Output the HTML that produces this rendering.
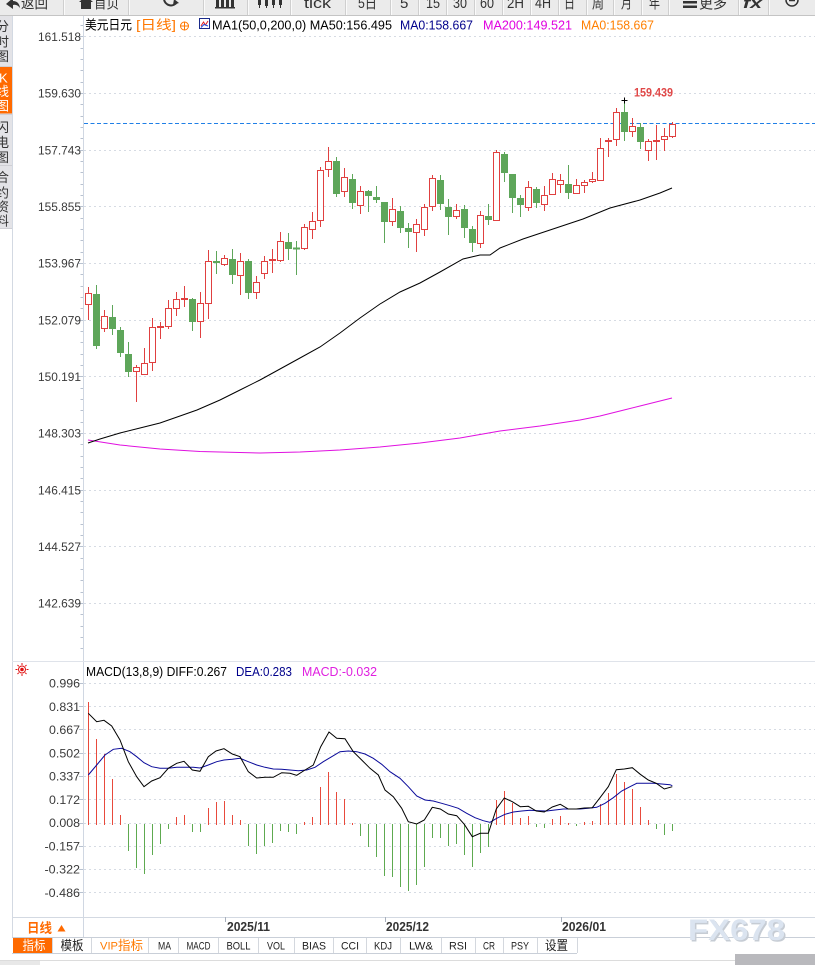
<!DOCTYPE html>
<html><head><meta charset="utf-8">
<style>
html,body{margin:0;padding:0;background:#fff;}
svg{display:block;}
text{font-family:"Liberation Sans","Noto Sans CJK SC",sans-serif;}
.mono{font-family:"Liberation Mono","Noto Sans CJK SC",monospace;}
</style></head><body>
<svg xmlns="http://www.w3.org/2000/svg" width="815" height="965" viewBox="0 0 815 965">
<rect width="815" height="965" fill="#fff"/>

<!-- ===== Toolbar ===== -->
<rect x="0" y="0" width="815" height="15" fill="#ebebeb"/>
<line x1="0" y1="15.5" x2="815" y2="15.5" stroke="#c4c4c4"/>
<g stroke="#cfcfcf" shape-rendering="crispEdges">
<path d="M63.5 0V15M128.5 0V15M203.5 0V15M247.5 0V15M290.5 0V15M345.5 0V15M390.5 0V15M418.5 0V15M446.5 0V15M474.5 0V15M502.5 0V15M530.5 0V15M558.5 0V15M586.5 0V15M613.5 0V15M641.5 0V15M668.5 0V15M738.5 0V15M768.5 0V15"/>
</g>
<g stroke="#fafafa" shape-rendering="crispEdges">
<path d="M64.5 0V15M129.5 0V15M204.5 0V15M248.5 0V15M291.5 0V15M346.5 0V15M391.5 0V15M419.5 0V15M447.5 0V15M475.5 0V15M503.5 0V15M531.5 0V15M559.5 0V15M587.5 0V15M614.5 0V15M642.5 0V15M669.5 0V15M739.5 0V15M769.5 0V15"/>
</g>
<g fill="#333">
<path d="M6 4 L13 -2 L13 1 Q19 1 20 8 Q17 4 13 5 L13 9 Z"/>
<path d="M79 2 L86 -4 L93 2 Z"/><rect x="81" y="2" width="10" height="7"/>
<rect x="216" y="-2" width="3" height="9"/><rect x="221" y="-4" width="3" height="11"/><rect x="226" y="0" width="3" height="7"/><rect x="231" y="-3" width="3" height="10"/>
<rect x="215" y="7" width="20" height="1.5"/>
<rect x="258" y="-2" width="3" height="7"/><rect x="259" y="-4" width="1" height="12"/>
<rect x="265" y="0" width="3" height="6"/><rect x="266" y="-4" width="1" height="12"/>
<rect x="272" y="-1" width="3" height="6"/><rect x="273" y="-4" width="1" height="12"/>
<rect x="279" y="0" width="3" height="5"/><rect x="280" y="-4" width="1" height="12"/>
<rect x="683" y="1" width="14" height="2.5"/><rect x="683" y="5.5" width="14" height="2.5"/>
</g>
<path d="M164 -1 A7 7 0 0 0 177 2" fill="none" stroke="#333" stroke-width="2"/>
<path d="M174 -1 L179 3 L173 5 Z" fill="#333"/>
<circle cx="792" cy="0" r="6" fill="none" stroke="#333" stroke-width="1.5"/>
<path d="M789 0.5H795" stroke="#333" stroke-width="1.5"/>
<g font-size="15" fill="#333">
<text x="21" y="8" textLength="27" lengthAdjust="spacingAndGlyphs">返回</text>
<text x="94" y="8" textLength="25" lengthAdjust="spacingAndGlyphs">首页</text>
<text x="304" y="8" textLength="27" lengthAdjust="spacingAndGlyphs">tick</text>
<text x="358" y="8" textLength="19" lengthAdjust="spacingAndGlyphs">5日</text>
<text x="400" y="8">5</text>
<text x="426" y="8" textLength="14" lengthAdjust="spacingAndGlyphs">15</text>
<text x="453" y="8" textLength="14" lengthAdjust="spacingAndGlyphs">30</text>
<text x="480" y="8" textLength="14" lengthAdjust="spacingAndGlyphs">60</text>
<text x="507" y="8" textLength="17" lengthAdjust="spacingAndGlyphs">2H</text>
<text x="535" y="8" textLength="16" lengthAdjust="spacingAndGlyphs">4H</text>
<text x="564" y="8" textLength="11" lengthAdjust="spacingAndGlyphs">日</text>
<text x="592" y="8" textLength="12" lengthAdjust="spacingAndGlyphs">周</text>
<text x="621" y="8" textLength="11" lengthAdjust="spacingAndGlyphs">月</text>
<text x="649" y="8" textLength="11" lengthAdjust="spacingAndGlyphs">年</text>
<text x="699" y="8" textLength="28" lengthAdjust="spacingAndGlyphs">更多</text>
<text x="743" y="8" font-weight="bold" font-style="italic" textLength="19" lengthAdjust="spacingAndGlyphs">fx</text>
</g>

<!-- ===== Left sidebar ===== -->
<rect x="0" y="16" width="12" height="212" fill="#e3e3e7"/>
<rect x="0" y="66.5" width="12" height="47" fill="#ff6a00"/>
<path d="M0 66.5H12M0 114.5H12M0 165.5H12M0 228.5H12" stroke="#cfcfd4"/>
<line x1="12.5" y1="16" x2="12.5" y2="937" stroke="#d3d9e2"/>
<g font-size="13" fill="#333">
<text x="-4" y="31">分</text><text x="-4" y="46.5">时</text><text x="-4" y="61">图</text>
<text x="-4" y="132">闪</text><text x="-4" y="147">电</text><text x="-4" y="162">图</text>
<text x="-4" y="182">合</text><text x="-4" y="197.5">约</text><text x="-4" y="211.5">资</text><text x="-4" y="225.5">料</text>
</g>
<g font-size="13" fill="#fff">
<text x="-1" y="82.5">K</text><text x="-4" y="96">线</text><text x="-4" y="110.5">图</text>
</g>

<!-- ===== Axis line ===== -->
<line x1="83.5" y1="16" x2="83.5" y2="937" stroke="#d0d7e2"/>

<!-- price gridlines -->
<g stroke="#d6dbe3" stroke-dasharray="2 3">
<path d="M84 36.5H815M84 93.5H815M84 150.5H815M84 206.5H815M84 263.5H815M84 320.5H815M84 376.5H815M84 433.5H815M84 490.5H815M84 546.5H815M84 603.5H815"/>
</g>
<!-- price ticks -->
<g stroke="#b8c2d0" shape-rendering="crispEdges">
<path d="M78 36.5H83M78 93.5H83M78 150.5H83M78 206.5H83M78 263.5H83M78 320.5H83M78 376.5H83M78 433.5H83M78 490.5H83M78 546.5H83M78 603.5H83"/>
<path d="M80.5 25.5H83M80.5 48.5H83M80.5 59.5H83M80.5 70.5H83M80.5 82.5H83M80.5 104.5H83M80.5 116.5H83M80.5 127.5H83M80.5 138.5H83M80.5 161.5H83M80.5 172.5H83M80.5 184.5H83M80.5 195.5H83M80.5 218.5H83M80.5 229.5H83M80.5 240.5H83M80.5 252.5H83M80.5 274.5H83M80.5 286.5H83M80.5 297.5H83M80.5 308.5H83M80.5 331.5H83M80.5 342.5H83M80.5 354.5H83M80.5 365.5H83M80.5 388.5H83M80.5 399.5H83M80.5 410.5H83M80.5 422.5H83M80.5 444.5H83M80.5 456.5H83M80.5 467.5H83M80.5 478.5H83M80.5 501.5H83M80.5 512.5H83M80.5 524.5H83M80.5 535.5H83M80.5 558.5H83M80.5 569.5H83M80.5 580.5H83M80.5 592.5H83M80.5 614.5H83M80.5 626.5H83M80.5 637.5H83M80.5 648.5H83"/>
</g>
<!-- price labels -->
<g font-size="12" fill="#3a3a3a">
<text x="38" y="41" textLength="43" lengthAdjust="spacingAndGlyphs">161.518</text>
<text x="38" y="97.7" textLength="43" lengthAdjust="spacingAndGlyphs">159.630</text>
<text x="38" y="154.3" textLength="43" lengthAdjust="spacingAndGlyphs">157.743</text>
<text x="38" y="211" textLength="43" lengthAdjust="spacingAndGlyphs">155.855</text>
<text x="38" y="267.7" textLength="43" lengthAdjust="spacingAndGlyphs">153.967</text>
<text x="38" y="324.3" textLength="43" lengthAdjust="spacingAndGlyphs">152.079</text>
<text x="38" y="381" textLength="43" lengthAdjust="spacingAndGlyphs">150.191</text>
<text x="38" y="437.7" textLength="43" lengthAdjust="spacingAndGlyphs">148.303</text>
<text x="38" y="494.3" textLength="43" lengthAdjust="spacingAndGlyphs">146.415</text>
<text x="38" y="551" textLength="43" lengthAdjust="spacingAndGlyphs">144.527</text>
<text x="38" y="607.7" textLength="43" lengthAdjust="spacingAndGlyphs">142.639</text>
</g>

<!-- legend -->
<g font-size="13">
<text x="85" y="29.5" fill="#000" textLength="47" lengthAdjust="spacingAndGlyphs">美元日元</text>
<text x="136" y="29.5" fill="#ff7700" textLength="40" lengthAdjust="spacingAndGlyphs">[日线]</text>
<text x="212" y="29.5" fill="#000" textLength="180" lengthAdjust="spacingAndGlyphs">MA1(50,0,200,0) MA50:156.495</text>
<text x="400" y="29.5" fill="#00008b" textLength="73" lengthAdjust="spacingAndGlyphs">MA0:158.667</text>
<text x="483" y="29.5" fill="#e000e0" textLength="89" lengthAdjust="spacingAndGlyphs">MA200:149.521</text>
<text x="581" y="29.5" fill="#ff7f00" textLength="73" lengthAdjust="spacingAndGlyphs">MA0:158.667</text>
</g>
<circle cx="184.5" cy="26" r="4" fill="none" stroke="#ff7700"/>
<path d="M184.5 21.5V30.5M180 26H189" stroke="#ff7700"/>
<rect x="199.5" y="18.5" width="10" height="10" fill="#fff" stroke="#1a2a8a"/>
<path d="M201 26 L203.5 22 L205.5 25 L208 21" fill="none" stroke="#e02020"/>
<path d="M201 27.5 L204 24.5 L208 26" fill="none" stroke="#2050e0"/>

<!-- current price dashed -->
<line x1="84" y1="123.5" x2="815" y2="123.5" stroke="#1f7fe6" stroke-dasharray="4 2.5"/>

<!-- MA200 -->
<polyline fill="none" stroke="#e010e0" stroke-width="1" points="88,440 120,445 160,449 200,451.5 260,453 300,452 340,450 380,447 420,443 460,438 500,431 540,426 580,420 600,416 620,411 640,406 660,401 672,398"/>
<!-- MA50 -->
<polyline fill="none" stroke="#000" stroke-width="1" points="88,443 100,439 120,433 140,428 160,423 180,416 197,410 220,400 240,390 260,380 280,369 300,358 320,347 340,333 360,318 380,304 400,292 420,283 440,272 463,259 480,255 490,255 500,248 523,239 550,230 583,219 610,208 640,200 660,193 672,188"/>

<!-- candles: green -->
<path fill="none" stroke="#5ea65a" d="M96.5 285V349M112.5 305V335M120.5 327V357M128.5 342V377M192.5 298V331M216.5 251V274M232.5 249V284M248.5 259V299M288.5 233V260M296.5 241V275M336.5 157V197M352.5 174V209M368.5 190V212M376.5 186V203M384.5 202V243M400.5 206V233M408.5 223V248M440.5 175V210M448.5 199V235M464.5 205V238M472.5 226V252M488.5 204V225M504.5 152V182M512.5 174V213M520.5 195V217M536.5 187V208M568.5 165V199M624.5 100V141M640.5 123V149"/>
<g fill="#5ea65a">
<rect x="93" y="294" width="7" height="52"/>
<rect x="109" y="317" width="7" height="12"/>
<rect x="117" y="330" width="7" height="23"/>
<rect x="125" y="354" width="7" height="18"/>
<rect x="189" y="299" width="7" height="23"/>
<rect x="213" y="261" width="7" height="2"/>
<rect x="229" y="259" width="7" height="16"/>
<rect x="245" y="261" width="7" height="32"/>
<rect x="285" y="242" width="7" height="7"/>
<rect x="293" y="247.5" width="7" height="2"/>
<rect x="333" y="161" width="7" height="33"/>
<rect x="349" y="179" width="7" height="24"/>
<rect x="365" y="191" width="7" height="5"/>
<rect x="373" y="197" width="7" height="3"/>
<rect x="381" y="202" width="7" height="20"/>
<rect x="397" y="211" width="7" height="17"/>
<rect x="405" y="228" width="7" height="4"/>
<rect x="437" y="180" width="7" height="24"/>
<rect x="445" y="207" width="7" height="10"/>
<rect x="461" y="209" width="7" height="19"/>
<rect x="469" y="229" width="7" height="14"/>
<rect x="485" y="216" width="7" height="4"/>
<rect x="501" y="154" width="7" height="19"/>
<rect x="509" y="174" width="7" height="24"/>
<rect x="517" y="198" width="7" height="7"/>
<rect x="533" y="189" width="7" height="14"/>
<rect x="565" y="184" width="7" height="9"/>
<rect x="621" y="112" width="7" height="20"/>
<rect x="637" y="127" width="7" height="15"/>
</g>
<!-- candles: red -->
<path fill="none" stroke="#e04040" d="M88.5 287V320M104.5 310V332M136.5 365V402M144.5 348V374M152.5 318V371M160.5 322V339M168.5 300V329M176.5 292V316M184.5 286V307M200.5 292V338M208.5 250V319M224.5 255V266M240.5 253V295M256.5 276V299M264.5 256V279M272.5 249V273M280.5 232V262M304.5 224V250M312.5 212V239M320.5 167V227M328.5 147V177M344.5 168V197M360.5 186V214M392.5 198V226M416.5 219V252M424.5 204V236M432.5 175V211M456.5 204V219M480.5 211V248M496.5 150V220M528.5 181V211M544.5 186V211M552.5 173V194M560.5 174V193M576.5 179V193M584.5 180V193M592.5 172V183M600.5 138V181M608.5 138V157M616.5 108V146M632.5 118V137M648.5 139V161M656.5 125V160M664.5 128V151M672.5 122V138"/>
<g fill="#fff" stroke="#e04040">
<rect x="85.5" y="293.5" width="6" height="11"/>
<rect x="101.5" y="316.5" width="6" height="12"/>
<rect x="133.5" y="367.5" width="6" height="4"/>
<rect x="141.5" y="363.5" width="6" height="11"/>
<rect x="149.5" y="327.5" width="6" height="35"/>
<rect x="157.5" y="326.5" width="6" height="1"/>
<rect x="165.5" y="308.5" width="6" height="18"/>
<rect x="173.5" y="299.5" width="6" height="9"/>
<rect x="181.5" y="298.5" width="6" height="1"/>
<rect x="197.5" y="303.5" width="6" height="18"/>
<rect x="205.5" y="261.5" width="6" height="42"/>
<rect x="221.5" y="258.5" width="6" height="6"/>
<rect x="237.5" y="261.5" width="6" height="14"/>
<rect x="253.5" y="282.5" width="6" height="10"/>
<rect x="261.5" y="261.5" width="6" height="12"/>
<rect x="269.5" y="259.5" width="6" height="1"/>
<rect x="277.5" y="241.5" width="6" height="19"/>
<rect x="301.5" y="227.5" width="6" height="21"/>
<rect x="309.5" y="221.5" width="6" height="8"/>
<rect x="317.5" y="170.5" width="6" height="50"/>
<rect x="325.5" y="161.5" width="6" height="8"/>
<rect x="341.5" y="177.5" width="6" height="14"/>
<rect x="357.5" y="191.5" width="6" height="14"/>
<rect x="389.5" y="209.5" width="6" height="12"/>
<rect x="413.5" y="224.5" width="6" height="8"/>
<rect x="421.5" y="207.5" width="6" height="22"/>
<rect x="429.5" y="178.5" width="6" height="28"/>
<rect x="453.5" y="210.5" width="6" height="6"/>
<rect x="477.5" y="215.5" width="6" height="28"/>
<rect x="493.5" y="152.5" width="6" height="68"/>
<rect x="525.5" y="187.5" width="6" height="20"/>
<rect x="541.5" y="195.5" width="6" height="9"/>
<rect x="549.5" y="179.5" width="6" height="15"/>
<rect x="557.5" y="180.5" width="6" height="4"/>
<rect x="573.5" y="185.5" width="6" height="8"/>
<rect x="581.5" y="182.5" width="6" height="3"/>
<rect x="589.5" y="179.5" width="6" height="2"/>
<rect x="597.5" y="148.5" width="6" height="32"/>
<rect x="605.5" y="140.5" width="6" height="1"/>
<rect x="613.5" y="112.5" width="6" height="27"/>
<rect x="629.5" y="126.5" width="6" height="5"/>
<rect x="645.5" y="141.5" width="6" height="9"/>
<rect x="653.5" y="140.5" width="6" height="1"/>
<rect x="661.5" y="136.5" width="6" height="3"/>
<rect x="669.5" y="124.5" width="6" height="12"/>
</g>
<!-- high marker -->
<path d="M621.5 100.5H627.5M624.5 97.5V103.5" stroke="#000"/>
<text x="634" y="96.5" font-size="12" font-weight="bold" fill="#e04848" textLength="39" lengthAdjust="spacingAndGlyphs">159.439</text>

<!-- ===== MACD panel ===== -->
<line x1="12" y1="661.5" x2="815" y2="661.5" stroke="#dfe3ea"/>
<g stroke="#e01010" fill="none">
<circle cx="22" cy="669.5" r="3.5"/>
<path d="M22 663V665M22 674V676M15.5 669.5H17.5M26.5 669.5H28.5M17.5 665L18.8 666.3M25.2 672.7L26.5 674M26.5 665L25.2 666.3M18.8 672.7L17.5 674"/>
</g>
<circle cx="22" cy="669.5" r="1.8" fill="#e01010"/>
<g font-size="13">
<text x="86" y="676" fill="#000" textLength="141" lengthAdjust="spacingAndGlyphs">MACD(13,8,9) DIFF:0.267</text>
<text x="236" y="676" fill="#00008b" textLength="56" lengthAdjust="spacingAndGlyphs">DEA:0.283</text>
<text x="302" y="676" fill="#e020e0" textLength="75" lengthAdjust="spacingAndGlyphs">MACD:-0.032</text>
</g>
<g stroke="#d6dbe3" stroke-dasharray="2 3">
<path d="M84 683.5H815M84 706.5H815M84 729.5H815M84 753.5H815M84 776.5H815M84 799.5H815M84 823.5H815M84 846.5H815M84 869.5H815M84 892.5H815"/>
</g>
<g stroke="#b8c2d0" shape-rendering="crispEdges">
<path d="M79 683.5H83M79 706.5H83M79 729.5H83M79 753.5H83M79 776.5H83M79 799.5H83M79 823.5H83M79 846.5H83M79 869.5H83M79 892.5H83"/>
</g>
<g font-size="12" fill="#3a3a3a">
<text x="49" y="687.6" textLength="31" lengthAdjust="spacingAndGlyphs">0.996</text>
<text x="49" y="710.9" textLength="31" lengthAdjust="spacingAndGlyphs">0.831</text>
<text x="49" y="734.1" textLength="31" lengthAdjust="spacingAndGlyphs">0.667</text>
<text x="49" y="757.4" textLength="31" lengthAdjust="spacingAndGlyphs">0.502</text>
<text x="49" y="780.7" textLength="31" lengthAdjust="spacingAndGlyphs">0.337</text>
<text x="49" y="803.9" textLength="31" lengthAdjust="spacingAndGlyphs">0.172</text>
<text x="49" y="827.2" textLength="31" lengthAdjust="spacingAndGlyphs">0.008</text>
<text x="44.5" y="850.5" textLength="35.5" lengthAdjust="spacingAndGlyphs">-0.157</text>
<text x="44.5" y="873.7" textLength="35.5" lengthAdjust="spacingAndGlyphs">-0.322</text>
<text x="44.5" y="897" textLength="35.5" lengthAdjust="spacingAndGlyphs">-0.486</text>
</g>
<!-- MACD bars -->
<path fill="none" stroke="#e84a3c" d="M88.5 825V702M96.5 825V739M104.5 825V754M112.5 825V779M120.5 825V815M176.5 825V817M184.5 825V815M208.5 825V808M216.5 825V802M224.5 825V801M232.5 825V815M240.5 825V820M304.5 825V822M312.5 825V817M320.5 825V787M328.5 825V772M336.5 825V792M344.5 825V799M352.5 825V823M496.5 825V800M504.5 825V791M512.5 825V803M520.5 825V818M528.5 825V816M552.5 825V819M560.5 825V816M568.5 825V823M584.5 825V822M592.5 825V821M600.5 825V804M608.5 825V793M616.5 825V774M624.5 825V782M632.5 825V789M640.5 825V807M648.5 825V820"/>
<path fill="none" stroke="#5eaa50" d="M128.5 824V851M136.5 824V868M144.5 824V874M152.5 824V855M160.5 824V844M168.5 824V829M192.5 824V832M200.5 824V832M248.5 824V846M256.5 824V854M264.5 824V846M272.5 824V843M280.5 824V831M288.5 824V832M296.5 824V834M360.5 824V836M368.5 824V847M376.5 824V857M384.5 824V876M392.5 824V877M400.5 824V887M408.5 824V891M416.5 824V885M424.5 824V867M432.5 824V838M440.5 824V838M448.5 824V846M456.5 824V844M464.5 824V855M472.5 824V867M480.5 824V853M488.5 824V847M536.5 824V827M544.5 824V828M576.5 824V826M656.5 824V829M664.5 824V835M672.5 824V831"/>
<!-- DEA -->
<polyline fill="none" stroke="#0a0a9a" points="88.3,775 96.7,765 105,755 113.3,749.3 121.7,748.3 130,751.7 136.7,756.7 144,762.7 151.7,766.7 160,768.3 168.3,768.3 176.7,767.3 185,767.3 193.3,767.3 200,768 208.3,765 216.7,761.7 224,760 232.3,759.3 240,758.3 248.3,761.7 256.7,765 265,767.3 273.3,769 281.7,769.3 290,770 298.3,770.7 306.7,770 315,767.3 323.3,761.7 331.7,756.7 340,751.7 348.3,751 356.7,751.7 365,754 373.3,758.3 381.7,764.3 390,771.7 400,778.3 408.3,786.7 416.7,796 425,800 433.3,801 441.7,803.3 450,805.7 458.3,808.3 466.7,813.3 475,817.7 483.3,820.7 490,822.3 496.7,818.3 505,814.3 513.3,812 521.7,811 530,810.3 538.3,810.7 546.7,811 555,810 563.3,809 571.7,809 580,809 588.3,808.3 596.7,807.3 605,803.3 613.3,797.7 621.7,791 630,786.7 636.7,783.3 645,783.3 653.3,783.3 661.7,784 670,784.7 672.3,785.7"/>
<!-- DIFF -->
<polyline fill="none" stroke="#000" points="88.3,713.3 96.7,721.7 104,720.3 111.7,726 120,740 128.3,761.7 136.7,776.7 144,786.7 151.7,781 160,777.7 168.3,768.3 176.7,763.3 184,761.3 192.3,770 200,771.3 208.3,756.7 216,751 224,748.7 232.3,754 240,756.7 248.3,771.7 256.7,778 265,777.3 273.3,777.3 281.7,772.7 290,773.3 296.7,775.3 305,770 313.3,765 320.7,746.7 329,732 336.7,738.3 345,738.7 353.3,751.7 361.7,760 370,768.3 378.3,775 385,790 393.3,796.7 401.7,808.3 408.3,821.7 416.7,824 424.3,820 432.3,807.3 440.3,809 448.3,814 456.7,815.7 464.3,824.3 472.3,836.7 480.3,833.3 488.3,833.3 496.3,809 504.3,798 512.3,801.7 520.3,806.7 528.3,806.3 536.3,811 544.3,812 552.3,807 560.3,804.3 568.3,809 576.3,809 584.3,808 592.3,807.7 600.3,797.3 608.3,786.7 616.3,769.7 624.3,769 632.3,767.7 640.3,774.3 648.3,780 656.3,783.3 664.3,789 672.3,786.7"/>

<!-- ===== Bottom axis ===== -->
<line x1="12" y1="917.5" x2="815" y2="917.5" stroke="#d3d9e2"/>
<line x1="12" y1="937.5" x2="815" y2="937.5" stroke="#c9cfd8"/>
<path d="M225.5 917V922M385.5 917V922M561.5 917V922" stroke="#a8b0bc"/>
<text x="27" y="932.5" font-size="13" font-weight="bold" fill="#ff6a00" textLength="25" lengthAdjust="spacingAndGlyphs">日线</text>
<path d="M57.5 931.5 L61.5 925 L65.5 931.5 Z" fill="#ff6a00"/>
<g font-size="13" font-weight="bold" fill="#333">
<text x="227" y="931" textLength="43" lengthAdjust="spacingAndGlyphs">2025/11</text>
<text x="386" y="931" textLength="43" lengthAdjust="spacingAndGlyphs">2025/12</text>
<text x="562" y="931" textLength="44" lengthAdjust="spacingAndGlyphs">2026/01</text>
</g>

<!-- watermark -->
<text x="689.5" y="941.5" font-size="30" font-weight="bold" fill="#c6ccd4" textLength="97" lengthAdjust="spacingAndGlyphs">FX678</text>
<text x="688" y="940" font-size="30" font-weight="bold" fill="#dbe4f0" textLength="97" lengthAdjust="spacingAndGlyphs">FX678</text>

<!-- ===== Tab row ===== -->
<rect x="13" y="938" width="39" height="15" fill="#ff6a00"/>
<line x1="12" y1="953.5" x2="577" y2="953.5" stroke="#c9cfd8"/>
<path d="M52.5 938V953M91.5 938V953M148.5 938V953M178.5 938V953M218.5 938V953M258.5 938V953M294.5 938V953M333.5 938V953M366.5 938V953M400.5 938V953M441.5 938V953M475.5 938V953M503.5 938V953M537.5 938V953M577.5 938V953" stroke="#d4d8de"/>
<g font-size="13">
<text x="22.5" y="950" fill="#fff" textLength="23" lengthAdjust="spacingAndGlyphs">指标</text>
<text x="60.5" y="950" fill="#222" textLength="23" lengthAdjust="spacingAndGlyphs">模板</text>
<text x="118" y="950" fill="#ff7a00" textLength="25" lengthAdjust="spacingAndGlyphs">指标</text>
<text x="545" y="950" fill="#222" textLength="23" lengthAdjust="spacingAndGlyphs">设置</text>
</g>
<g class="mono" font-size="11">
<text x="100" y="949.5" fill="#ff7a00" textLength="18" lengthAdjust="spacingAndGlyphs">VIP</text>
<text x="158" y="949.5" fill="#222" textLength="13" lengthAdjust="spacingAndGlyphs">MA</text>
<text x="186.5" y="949.5" fill="#222" textLength="24" lengthAdjust="spacingAndGlyphs">MACD</text>
<text x="226.5" y="949.5" fill="#222" textLength="24" lengthAdjust="spacingAndGlyphs">BOLL</text>
<text x="267" y="949.5" fill="#222" textLength="18" lengthAdjust="spacingAndGlyphs">VOL</text>
<text x="302" y="949.5" fill="#222" textLength="24" lengthAdjust="spacingAndGlyphs">BIAS</text>
<text x="341" y="949.5" fill="#222" textLength="18" lengthAdjust="spacingAndGlyphs">CCI</text>
<text x="374" y="949.5" fill="#222" textLength="18" lengthAdjust="spacingAndGlyphs">KDJ</text>
<text x="409" y="949.5" fill="#222" textLength="24" lengthAdjust="spacingAndGlyphs">LW&amp;</text>
<text x="449" y="949.5" fill="#222" textLength="18" lengthAdjust="spacingAndGlyphs">RSI</text>
<text x="483" y="949.5" fill="#222" textLength="12" lengthAdjust="spacingAndGlyphs">CR</text>
<text x="511" y="949.5" fill="#222" textLength="18" lengthAdjust="spacingAndGlyphs">PSY</text>
</g>

<!-- bottom strip -->
<line x1="0" y1="960.5" x2="815" y2="960.5" stroke="#dcdcdc"/>
<rect x="0" y="961" width="40" height="4" fill="#e8e8e8"/>
<rect x="735" y="954" width="80" height="11" fill="#b9b9bd"/>
</svg>
</body></html>
